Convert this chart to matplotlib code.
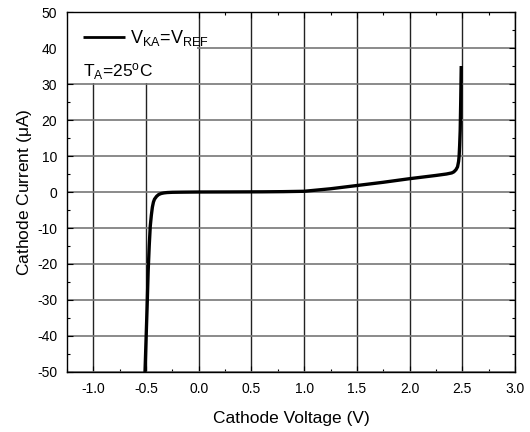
import matplotlib
matplotlib.use('Agg')
import matplotlib.pyplot as plt
from matplotlib.patches import Rectangle
from matplotlib.ticker import MultipleLocator

plt.rcParams['font.family'] = ['Liberation Sans', 'DejaVu Sans']
plt.rcParams['mathtext.fontset'] = 'custom'
plt.rcParams['mathtext.rm'] = 'Liberation Sans'
plt.rcParams['mathtext.it'] = 'Liberation Sans'
plt.rcParams['axes.unicode_minus'] = False

# cathode voltage (V) vs cathode current (uA)
voltage = [-0.51, -0.50, -0.49, -0.48, -0.47, -0.46, -0.45, -0.44, -0.43, -0.42,
           -0.40, -0.38, -0.355, -0.33, -0.30, -0.25, -0.15, 0.0, 0.3, 0.6,
           0.8, 1.0, 1.25, 1.5, 1.75, 2.0, 2.25, 2.35, 2.40, 2.42, 2.44,
           2.455, 2.465, 2.47, 2.475, 2.48, 2.485, 2.49]
current = [-50, -41, -32, -22, -15, -9.5, -6.5, -4.2, -2.8, -2.0,
           -1.2, -0.7, -0.4, -0.25, -0.15, -0.08, -0.04, 0.0, 0.02, 0.05,
           0.1, 0.2, 0.9, 1.8, 2.7, 3.7, 4.6, 5.0, 5.3, 5.6, 6.2,
           7.0, 8.5, 10, 13, 17, 25, 35]

xticks = [-1.0, -0.5, 0.0, 0.5, 1.0, 1.5, 2.0, 2.5, 3.0]
yticks = [-50, -40, -30, -20, -10, 0, 10, 20, 30, 40, 50]

fig = plt.figure(figsize=(5.3, 4.32), dpi=100)
ax = fig.add_axes([0.1264, 0.1389, 0.8453, 0.8333])

ax.plot(voltage, current, color='black', lw=2.4, zorder=3,
        label=r'V$_{\mathrm{KA}}$=V$_{\mathrm{REF}}$', solid_capstyle='butt')

ax.set_xlim(-1.25, 3.0)
ax.set_ylim(-50, 50)
ax.set_xticks(xticks)
ax.set_yticks(yticks)
ax.set_xticklabels(['%.1f' % v for v in xticks])
ax.set_yticklabels([str(v) for v in yticks])
ax.xaxis.set_minor_locator(MultipleLocator(0.25))
ax.yaxis.set_minor_locator(MultipleLocator(5))
ax.tick_params(which='both', direction='in', top=True, right=True,
               labelsize=10, width=0.8)
ax.tick_params(which='major', length=4, pad=7)
ax.tick_params(which='minor', length=2.5)

ax.set_axisbelow(True)
ax.xaxis.grid(True, color='#222222', lw=1.0)
ax.yaxis.grid(True, color='#777777', lw=1.2)
for s in ax.spines.values():
    s.set_linewidth(1.0)

ax.set_xlabel('Cathode Voltage (V)', fontsize=12.5, labelpad=11)
ax.set_ylabel(r'Cathode Current ($\mu$A)', fontsize=12.5, labelpad=2)

# white box behind the legend
ax.add_patch(Rectangle((0, 0.803), 0.29, 0.197, transform=ax.transAxes,
                       facecolor='white', edgecolor='none', zorder=1))

leg = ax.legend(loc='upper left', bbox_to_anchor=(0.02, 0.975), frameon=False,
                fontsize=13, handlelength=2.3, handletextpad=0.3,
                borderaxespad=0)
leg.set_zorder(4)
for ln in leg.get_lines():
    ln.set_linewidth(2.0)
ax.text(0.035, 0.835, r'T$_{\mathrm{A}}$=25$^{\mathrm{o}}$C', transform=ax.transAxes,
        fontsize=12.5, va='center', ha='left', zorder=4)

fig.savefig('out.png', dpi=100)
